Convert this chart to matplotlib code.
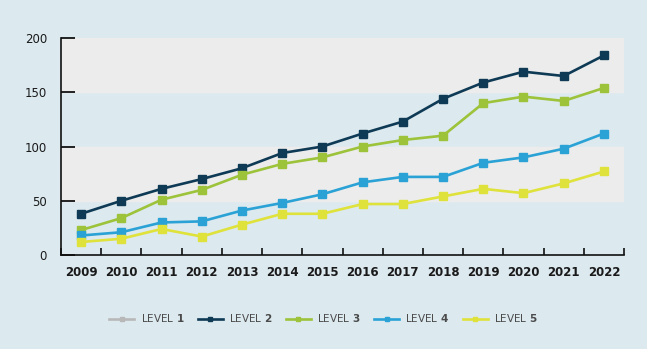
import matplotlib.pyplot as plt
import numpy as np

# values
years = [2009, 2010, 2011, 2012, 2013, 2014, 2015, 2016, 2017, 2018, 2019, 2020, 2021, 2022]
level1 = []
level2 = [38, 50, 61, 70, 80, 94, 100, 112, 123, 144, 159, 169, 165, 184]
level3 = [23, 34, 51, 60, 74, 84, 90, 100, 106, 110, 140, 146, 142, 154]
level4 = [18, 21, 30, 31, 41, 48, 56, 67, 72, 72, 85, 90, 98, 112]
level5 = [12, 15, 24, 17, 28, 38, 38, 47, 47, 54, 61, 57, 66, 77]
labels = ["LEVEL $\\bf{1}$", "LEVEL $\\bf{2}$", "LEVEL $\\bf{3}$", "LEVEL $\\bf{4}$", "LEVEL $\\bf{5}$"]
colors = ["#b8b8b8", "#0e3a55", "#9cc33a", "#2aa2d5", "#dfe23a"]

bg = "#dce9ef"
band = "#ececec"

plt.rcParams['font.family'] = ['DejaVu Sans']

fig = plt.figure(figsize=(6.47, 3.49), dpi=100, facecolor=bg)
ax = fig.add_axes([0.0943, 0.2693, 0.8702, 0.6217])
ax.set_facecolor(bg)

ax.axhspan(50, 100, color=band, zorder=0)
ax.axhspan(150, 200, color=band, zorder=0)

series = [level1, level2, level3, level4, level5]
for vals, lab, c in zip(series, labels, colors):
    ax.plot(years[:len(vals)], vals, color=c, lw=1.9, marker='s', ms=5.3, label=lab, zorder=3)

ax.set_xlim(2008.5, 2022.5)
ax.set_ylim(0, 200)
ax.set_xticks(years)
ax.set_xticks(np.arange(2008.5, 2023, 1), minor=True)
ax.set_yticks([0, 50, 100, 150, 200])
ax.tick_params(axis='x', which='major', length=0, pad=8, labelsize=8.5, labelcolor='#1a1a1a')
ax.tick_params(axis='x', which='minor', direction='in', length=5, width=1.2, color='#111111')
ax.tick_params(axis='y', direction='in', length=10, width=1.2, pad=10, labelsize=8.5, labelcolor='#1a1a1a')
for t in ax.get_xticklabels():
    t.set_fontweight('bold')

for s in ['top', 'right']:
    ax.spines[s].set_visible(False)
for s in ['left', 'bottom']:
    ax.spines[s].set_linewidth(1.2)
    ax.spines[s].set_color('#111111')

leg = fig.legend(loc='center', bbox_to_anchor=(0.5, 0.088), ncol=5, frameon=False,
                 fontsize=7.5, handlelength=2.4, columnspacing=1.3, markerscale=0.6,
                 handletextpad=0.6)
for t in leg.get_texts():
    t.set_color('#4a4a4a')

fig.savefig('out.png', dpi=100, facecolor=bg)
